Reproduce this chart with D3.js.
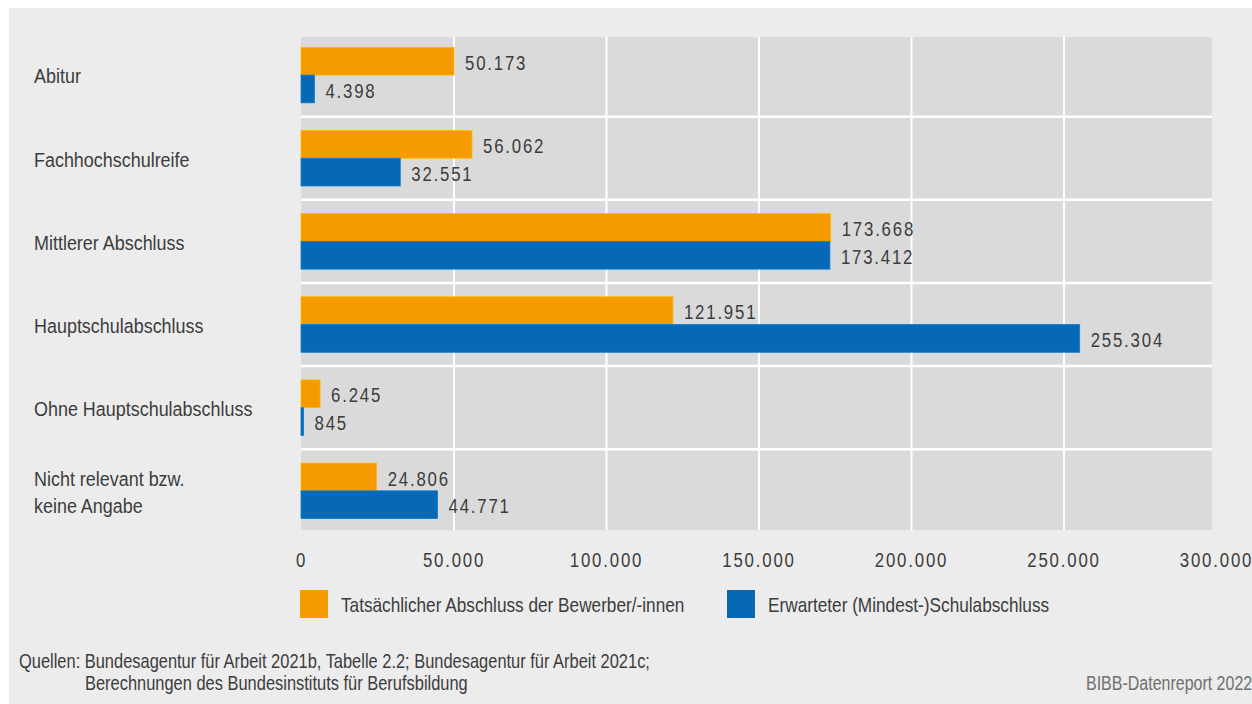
<!DOCTYPE html>
<html lang="de">
<head>
<meta charset="utf-8">
<script src="https://cdn.jsdelivr.net/npm/d3@7"></script>
<style>
  html, body { margin: 0; padding: 0; background: #ffffff; }
  svg { display: block; }
  text { font-family: "Liberation Sans", Arial, sans-serif; fill: #3c3c3c; }
</style>
</head>
<body>
<svg id="chart" width="1252" height="704"></svg>
<script>
// School-leaving qualifications: applicants' actual vs. employers' expected minimum
const categories = [
  "Abitur",
  "Fachhochschulreife",
  "Mittlerer Abschluss",
  "Hauptschulabschluss",
  "Ohne Hauptschulabschluss",
  "Nicht relevant bzw.\nkeine Angabe"
];
const seriesNames = [
  "Tatsächlicher Abschluss der Bewerber/-innen",
  "Erwarteter (Mindest-)Schulabschluss"
];
const actualValues   = [50173, 56062, 173668, 121951, 6245, 24806];
const expectedValues = [4398, 32551, 173412, 255304, 845, 44771];
const tickValues = [0, 50000, 100000, 150000, 200000, 250000, 300000];
const seriesColors = ["#f59b00", "#0769b3"];
const sourceLines = [
  "Quellen: Bundesagentur für Arbeit 2021b, Tabelle 2.2; Bundesagentur für Arbeit 2021c;",
  "Berechnungen des Bundesinstituts für Berufsbildung"
];
const creditText = "BIBB-Datenreport 2022";

const de = d3.formatLocale({ decimal: ",", thousands: ".", grouping: [3], currency: ["", " €"] });
const fmt = de.format(",d");

// narrow face: regular sans squeezed horizontally
const squeeze = (tx, ty, s = 0.82) => `translate(${tx},${ty}) scale(${s},1)`;

const svg = d3.select("#chart");

// panel background
svg.append("rect").attr("x", 9).attr("y", 8).attr("width", 1243).attr("height", 696).attr("fill", "#ececec");

const x = d3.scaleLinear().domain([0, 300000]).range([301, 1216]);
const y = d3.scaleBand().domain(categories).range([33.5, 532.4]).paddingInner(0).paddingOuter(0);
const pairH = 55.5;
const ySub = d3.scaleBand().domain(seriesNames).range([0, pairH]);

const plotTop = 37, plotBottom = 530, plotRight = 1212;

// plot area
svg.append("rect")
  .attr("x", x(0)).attr("y", plotTop)
  .attr("width", plotRight - x(0)).attr("height", plotBottom - plotTop)
  .attr("fill", "#dadada");

// vertical gridlines
svg.append("g").selectAll("line")
  .data(tickValues.filter(t => t > 0 && x(t) < plotRight))
  .join("line")
  .attr("x1", d => x(d) + 0.5).attr("x2", d => x(d) + 0.5)
  .attr("y1", plotTop).attr("y2", plotBottom)
  .attr("stroke", "#ffffff").attr("stroke-width", 2);

// horizontal row separators
svg.append("g").selectAll("line")
  .data(categories.slice(1))
  .join("line")
  .attr("x1", x(0)).attr("x2", plotRight)
  .attr("y1", d => y(d)).attr("y2", d => y(d))
  .attr("stroke", "#ffffff").attr("stroke-width", 2.5);

const rows = categories.map((c, i) => ({
  cat: c,
  vals: [
    { name: seriesNames[0], value: actualValues[i], color: seriesColors[0] },
    { name: seriesNames[1], value: expectedValues[i], color: seriesColors[1] }
  ]
}));

const rowG = svg.append("g").selectAll("g")
  .data(rows)
  .join("g")
  .attr("transform", d => `translate(0,${y(d.cat) + (y.bandwidth() - pairH) / 2})`);

rowG.selectAll("rect")
  .data(d => d.vals)
  .join("rect")
  .attr("x", x(0))
  .attr("y", d => ySub(d.name))
  .attr("width", d => x(d.value) - x(0))
  .attr("height", ySub.bandwidth())
  .attr("fill", d => d.color)
  .attr("stroke", d => d3.color(d.color).brighter(0.5))
  .attr("stroke-width", 0.8);

rowG.selectAll("text")
  .data(d => d.vals)
  .join("text")
  .attr("transform", d => squeeze(x(d.value) + 11, ySub(d.name) + ySub.bandwidth() / 2 + 1.5))
  .attr("dominant-baseline", "central")
  .attr("font-size", 20.5)
  .attr("letter-spacing", 2.2)
  .text(d => fmt(d.value));

// category labels
svg.append("g").selectAll("text")
  .data(categories)
  .join("text")
  .attr("transform", squeeze(34, 0, 0.855))
  .attr("font-size", 21)
  .each(function (d) {
    const lines = d.split("\n");
    const cy = y(d) + y.bandwidth() / 2 + 0.8;
    const lh = 27;
    d3.select(this).selectAll("tspan")
      .data(lines)
      .join("tspan")
      .attr("x", 0)
      .attr("y", (l, i) => cy + (i - (lines.length - 1) / 2) * lh)
      .attr("dominant-baseline", "central")
      .text(l => l);
  });

// x axis
const axis = d3.axisBottom(x).tickValues(tickValues).tickFormat(fmt).tickSize(0).tickPadding(22);
const axG = svg.append("g").attr("transform", `translate(0,${plotBottom})`).call(axis);
axG.select(".domain").remove();
axG.selectAll("text")
  .attr("font-size", 20.5)
  .attr("letter-spacing", 2.2)
  .attr("font-family", null)
  .attr("fill", "#3c3c3c")
  .attr("transform", "scale(0.82,1)");

// legend
const legendX = [300, 727];
const lg = svg.append("g").selectAll("g")
  .data(seriesNames)
  .join("g")
  .attr("transform", (d, i) => `translate(${legendX[i]},590)`);
lg.append("rect").attr("width", 28).attr("height", 28).attr("fill", (d, i) => seriesColors[i]);
lg.append("text")
  .attr("transform", squeeze(41, 14.5))
  .attr("dominant-baseline", "central")
  .attr("font-size", 21)
  .text(d => d);

// sources
svg.append("text").attr("transform", squeeze(19, 668, 0.822)).attr("font-size", 20).text(sourceLines[0]);
svg.append("text").attr("transform", squeeze(85, 690, 0.822)).attr("font-size", 20).text(sourceLines[1]);
svg.append("text").attr("transform", squeeze(1086, 690)).attr("font-size", 19.5)
  .style("fill", "#707070").text(creditText);
</script>
</body>
</html>
